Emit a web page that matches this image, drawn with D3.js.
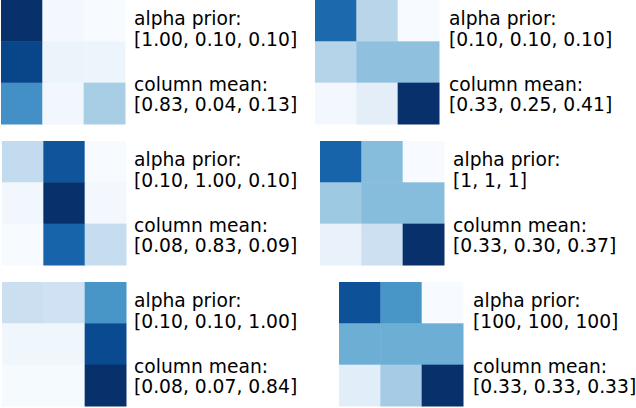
<!DOCTYPE html>
<html>
<head>
<meta charset="utf-8">
<script src="https://cdn.jsdelivr.net/npm/d3@7"></script>
<style>
body { margin: 0; background: #fff; }
text { font-family: 'DejaVu Sans', sans-serif; font-size: 18.7px; fill: #000; }
</style>
</head>
<body>
<script>
// text per panel
var priorLabels = ['[1.00, 0.10, 0.10]', '[0.10, 0.10, 0.10]', '[0.10, 1.00, 0.10]',
                   '[1, 1, 1]', '[0.10, 0.10, 1.00]', '[100, 100, 100]']
var meanLabels = ['[0.83, 0.04, 0.13]', '[0.33, 0.25, 0.41]', '[0.08, 0.83, 0.09]',
                  '[0.33, 0.30, 0.37]', '[0.08, 0.07, 0.84]', '[0.33, 0.33, 0.33]']

// 3x3 cell intensities (row by row)
var cellValues = [
    [[1.00, 0.02, 0.00], [0.92, 0.06, 0.05], [0.63, 0.03, 0.34]],
    [[0.78, 0.29, 0.00], [0.30, 0.41, 0.41], [0.02, 0.10, 1.00]],
    [[0.25, 0.86, 0.00], [0.03, 1.00, 0.02], [0.00, 0.80, 0.24]],
    [[0.80, 0.43, 0.00], [0.37, 0.43, 0.43], [0.07, 0.21, 1.00]],
    [[0.22, 0.20, 0.61], [0.04, 0.04, 0.90], [0.01, 0.01, 1.00]],
    [[0.87, 0.61, 0.00], [0.50, 0.50, 0.50], [0.11, 0.35, 1.00]]
]

var width = 636, height = 408

// where each heatmap sits and where its text starts
var layout = [
    {x: 1, y: 0, tx: 134},
    {x: 315, y: 0, tx: 449},
    {x: 2, y: 141, tx: 134},
    {x: 320, y: 141, tx: 453},
    {x: 2, y: 282, tx: 134},
    {x: 339, y: 282, tx: 473}
]
var size = 124

var svg = d3.select('body').append('svg')
    .attr('width', width)
    .attr('height', height)

var band = d3.scaleBand().domain([0, 1, 2]).range([0, size])
var color = d3.scaleSequential(d3.interpolateBlues).domain([0, 1])

cellValues.forEach((m, i) => {
    var p = layout[i]
    var g = svg.append('g')
        .attr('transform', `translate(${p.x}, ${p.y})`)

    var cells = []
    m.forEach((row, r) => row.forEach((v, c) => cells.push({r: r, c: c, v: v})))

    g.selectAll('rect')
        .data(cells)
        .enter().append('rect')
        .attr('x', d => band(d.c))
        .attr('y', d => band(d.r))
        .attr('width', band.bandwidth() + 0.5)
        .attr('height', band.bandwidth() + 0.5)
        .attr('fill', d => color(d.v))

    // text block, centred on the heatmap
    var cy = p.y + size / 2
    var lines = [
        {t: 'alpha prior:', dy: -37},
        {t: priorLabels[i], dy: -16.3},
        {t: 'column mean:', dy: 28.5},
        {t: meanLabels[i], dy: 48.7}
    ]
    svg.selectAll(null)
        .data(lines)
        .enter().append('text')
        .attr('x', p.tx)
        .attr('y', d => cy + d.dy)
        .text(d => d.t)
})
</script>
</body>
</html>
